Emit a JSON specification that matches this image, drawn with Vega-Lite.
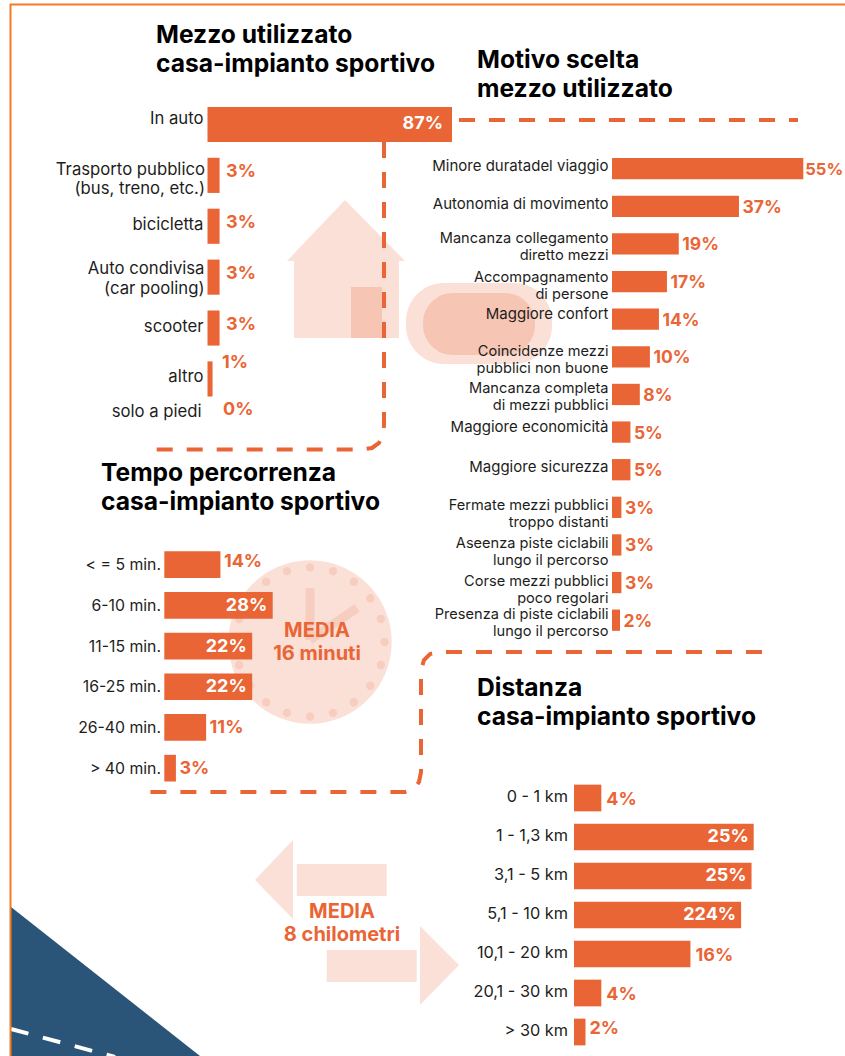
{
"$schema":"https://vega.github.io/schema/vega-lite/v6.json",
"width":845,"height":1056,"padding":0,"autosize":{"type":"none"},"background":"white",
"config":{"view":{"stroke":null},"text":{"font":"Inter","fill":"#1d1d1b"}},
"datasets":{
"p1":[
{"n":0,"cat":"In auto","v":87,"t":"87%"},
{"n":1,"cat":"Trasporto pubblico\n(bus, treno, etc.)","v":4.3,"t":"3%"},
{"n":2,"cat":"bicicletta","v":4.3,"t":"3%"},
{"n":3,"cat":"Auto condivisa\n(car pooling)","v":4.3,"t":"3%"},
{"n":4,"cat":"scooter","v":4.3,"t":"3%"},
{"n":5,"cat":"altro","v":1.8,"t":"1%"},
{"n":6,"cat":"solo a piedi","v":0,"t":"0%"}],
"p2":[
{"n":0,"cat":"Minore duratadel viaggio","v":55,"t":"55%"},
{"n":1,"cat":"Autonomia di movimento","v":36.5,"t":"37%"},
{"n":2,"cat":"Mancanza collegamento\ndiretto mezzi","v":19.2,"t":"19%"},
{"n":3,"cat":"Accompagnamento\ndi persone","v":15.8,"t":"17%"},
{"n":4,"cat":"Maggiore confort","v":13.5,"t":"14%"},
{"n":5,"cat":"Coincidenze mezzi\npubblici non buone","v":10.9,"t":"10%"},
{"n":6,"cat":"Mancanza completa\ndi mezzi pubblici","v":8,"t":"8%"},
{"n":7,"cat":"Maggiore economicità","v":5.3,"t":"5%"},
{"n":8,"cat":"Maggiore sicurezza","v":5.3,"t":"5%"},
{"n":9,"cat":"Fermate mezzi pubblici\ntroppo distanti","v":2.7,"t":"3%"},
{"n":10,"cat":"Aseenza piste ciclabili\nlungo il percorso","v":2.7,"t":"3%"},
{"n":11,"cat":"Corse mezzi pubblici\npoco regolari","v":2.7,"t":"3%"},
{"n":12,"cat":"Presenza di piste ciclabili\nlungo il percorso","v":2.3,"t":"2%"}],
"p3":[
{"n":0,"cat":"< = 5 min.","v":14.5,"t":"14%"},
{"n":1,"cat":"6-10 min.","v":28,"t":"28%"},
{"n":2,"cat":"11-15 min.","v":22.7,"t":"22%"},
{"n":3,"cat":"16-25 min.","v":22.7,"t":"22%"},
{"n":4,"cat":"26-40 min.","v":10.8,"t":"11%"},
{"n":5,"cat":"> 40 min.","v":3,"t":"3%"}],
"p4":[
{"n":0,"cat":"0 - 1 km","v":3.8,"t":"4%"},
{"n":1,"cat":"1 - 1,3 km","v":25,"t":"25%"},
{"n":2,"cat":"3,1 - 5 km","v":24.7,"t":"25%"},
{"n":3,"cat":"5,1 - 10 km","v":23.25,"t":"224%"},
{"n":4,"cat":"10,1 - 20 km","v":16.2,"t":"16%"},
{"n":5,"cat":"20,1 - 30 km","v":3.8,"t":"4%"},
{"n":6,"cat":"> 30 km","v":1.6,"t":"2%"}],
"blocks":[
{"k":"corpo casa","x0":294,"x1":399,"y0":261,"y1":338,"tone":"pale"},
{"k":"porta","x0":351,"x1":382,"y0":287,"y1":338,"tone":"deep"},
{"k":"freccia sx","x0":296.7,"x1":386.7,"y0":864,"y1":896,"tone":"pale"},
{"k":"freccia dx","x0":326.7,"x1":416.7,"y0":950,"y1":982,"tone":"pale"}],
"tri":[
{"k":"tetto","x":287,"y0":261,"y1":261},{"k":"tetto","x":345,"y0":200,"y1":261},{"k":"tetto","x":405,"y0":261,"y1":261},
{"k":"punta sx","x":255,"y0":880,"y1":880},{"k":"punta sx","x":293,"y0":840,"y1":919},
{"k":"punta dx","x":420,"y0":926,"y1":1005},{"k":"punta dx","x":459,"y0":965,"y1":965}],
"blue":[{"k":"angolo","x":11,"y0":907,"y1":1056},{"k":"angolo","x":200,"y0":1056,"y1":1056}],
"dots":[
{"x":310,"y":567.5},{"x":333,"y":571.1},{"x":353.8,"y":581.7},{"x":370.3,"y":598.2},{"x":380.9,"y":619},{"x":384.5,"y":642},{"x":380.9,"y":665},{"x":370.3,"y":685.8},{"x":353.8,"y":702.3},{"x":333,"y":712.9},{"x":310,"y":716.5},{"x":287,"y":712.9},{"x":266.2,"y":702.3},{"x":249.7,"y":685.8},{"x":239.1,"y":665},{"x":235.5,"y":642},{"x":239.1,"y":619},{"x":249.7,"y":598.2},{"x":266.2,"y":581.7},{"x":287,"y":571.1}],
"hands":[
{"p":"a","o":0,"x":310,"y":588},{"p":"a","o":1,"x":310,"y":640},
{"p":"b","o":0,"x":310,"y":640},{"p":"b","o":1,"x":357,"y":608}],
"frame":[{"p":"f","o":0,"x":10.5,"y":1056},{"p":"f","o":1,"x":10.5,"y":4.5},{"p":"f","o":2,"x":845,"y":4.5}],
"road":[{"p":"r","o":0,"x":11,"y":1029},{"p":"r","o":1,"x":115,"y":1057}],
"dash":[
{"p":"A","o":0,"x":384,"y":142},{"p":"A","o":1,"x":384,"y":425},{"p":"A","o":2,"x":383,"y":435},{"p":"A","o":3,"x":379,"y":443},{"p":"A","o":4,"x":372,"y":448},{"p":"A","o":5,"x":362,"y":449.5},{"p":"A","o":6,"x":152,"y":449.5},
{"p":"B","o":0,"x":459,"y":120},{"p":"B","o":1,"x":798,"y":120},
{"p":"C","o":0,"x":762,"y":652},{"p":"C","o":1,"x":440,"y":652},{"p":"C","o":2,"x":430,"y":654},{"p":"C","o":3,"x":424,"y":660},{"p":"C","o":4,"x":421,"y":670},{"p":"C","o":5,"x":421,"y":772},{"p":"C","o":6,"x":419,"y":782},{"p":"C","o":7,"x":414,"y":789},{"p":"C","o":8,"x":405,"y":792},{"p":"C","o":9,"x":139,"y":792}],
"titles":[
{"x":156,"y":43,"s":"Mezzo utilizzato\ncasa-impianto sportivo"},
{"x":477,"y":67.7,"s":"Motivo scelta\nmezzo utilizzato"},
{"x":101,"y":481,"s":"Tempo percorrenza\ncasa-impianto sportivo"},
{"x":477,"y":696,"s":"Distanza\ncasa-impianto sportivo"}],
"media":[
{"x":317,"y":637,"s":"MEDIA\n16 minuti"},
{"x":342,"y":918,"s":"MEDIA\n8 chilometri"}]
},
"resolve":{"scale":{"x":"independent","y":"independent"}},
"layer":[
{"encoding":{
"x":{"field":"x","type":"quantitative","axis":null,"scale":{"domain":[0,845],"range":[0,845],"nice":false,"zero":false}},
"y":{"field":"y","type":"quantitative","axis":null,"scale":{"domain":[0,1056],"range":[0,1056],"nice":false,"zero":false}}},
"layer":[
{"data":{"name":"blue"},"mark":{"type":"area","color":"#2b5578","stroke":null},"encoding":{"y":{"field":"y0","type":"quantitative"},"y2":{"field":"y1"},"detail":{"field":"k"}}},
{"data":{"name":"road"},"mark":{"type":"line","color":"white","strokeWidth":4,"strokeDash":[18,15]},"encoding":{"order":{"field":"o"}}},
{"data":{"name":"frame"},"mark":{"type":"line","color":"#f47b20","strokeWidth":2},"encoding":{"order":{"field":"o"}}},
{"data":{"name":"tri"},"mark":{"type":"area","color":"#fbe0d7"},"encoding":{"y":{"field":"y0","type":"quantitative"},"y2":{"field":"y1"},"detail":{"field":"k"}}},
{"data":{"name":"blocks"},"mark":{"type":"rect"},"encoding":{"x":{"field":"x0","type":"quantitative"},"x2":{"field":"x1"},"y":{"field":"y0","type":"quantitative"},"y2":{"field":"y1"},"color":{"field":"tone","type":"nominal","legend":null,"scale":{"domain":["pale","deep"],"range":["#fbe0d7","#f6c5b4"]}}}},
{"data":{"values":[{"x0":406,"x1":552,"y0":283,"y1":364}]},"mark":{"type":"rect","color":"#fbe0d7","cornerRadius":38},"encoding":{"x":{"field":"x0","type":"quantitative"},"x2":{"field":"x1"},"y":{"field":"y0","type":"quantitative"},"y2":{"field":"y1"}}},
{"data":{"values":[{"x0":423,"x1":535,"y0":293,"y1":355}]},"mark":{"type":"rect","color":"#f6c5b4","cornerRadius":30},"encoding":{"x":{"field":"x0","type":"quantitative"},"x2":{"field":"x1"},"y":{"field":"y0","type":"quantitative"},"y2":{"field":"y1"}}},
{"data":{"values":[{"x":310,"y":642}]},"mark":{"type":"point","filled":true,"opacity":1,"color":"#fbe0d7","size":26700}},
{"data":{"name":"dots"},"mark":{"type":"point","filled":true,"opacity":1,"color":"#f6cdbf","size":70}},
{"data":{"name":"hands"},"mark":{"type":"line","color":"#f6cdbf","strokeWidth":9},"encoding":{"detail":{"field":"p"},"order":{"field":"o"}}},
{"data":{"name":"dash"},"mark":{"type":"line","color":"#ea6535","strokeWidth":4,"strokeDash":[16,14]},"encoding":{"detail":{"field":"p"},"order":{"field":"o"}}},
{"data":{"name":"titles"},"mark":{"type":"text","align":"left","baseline":"alphabetic","fontSize":24.6,"fontWeight":700,"lineBreak":"\n","lineHeight":29,"fill":"#000000"},"encoding":{"text":{"field":"s"}}},
{"data":{"name":"media"},"mark":{"type":"text","align":"center","baseline":"alphabetic","fontSize":20,"fontWeight":700,"lineBreak":"\n","lineHeight":23,"fill":"#ea6535"},"encoding":{"text":{"field":"s"}}}
]},
{"data":{"name":"p1"},"encoding":{
"x":{"field":"v","type":"quantitative","axis":null,"scale":{"domain":[0,87],"range":[207.5,452],"nice":false}},
"y":{"field":"cat","type":"nominal","sort":null,"axis":null,"scale":{"type":"band","range":[99,455.3],"paddingInner":0.31,"paddingOuter":0.155}},
"text":{"field":"cat"}},
"layer":[
{"mark":{"type":"bar","color":"#ea6535"},"encoding":{"text":{"value":""}}},
{"transform":[{"filter":{"field":"n","oneOf":[0]}}],"mark":{"type":"text","align":"right","dx":-4,"dy":-5.5,"fontSize":16.7},"encoding":{"x":{"datum":0,"type":"quantitative"}}},
{"transform":[{"filter":{"field":"n","oneOf":[1]}}],"mark":{"type":"text","align":"right","dx":-2.5,"dy":-5,"fontSize":16.7,"lineBreak":"\n","lineHeight":19},"encoding":{"x":{"datum":0,"type":"quantitative"}}},
{"transform":[{"filter":{"field":"n","oneOf":[3]}}],"mark":{"type":"text","align":"right","dx":-3,"dy":-8.5,"fontSize":16.7,"lineBreak":"\n","lineHeight":20},"encoding":{"x":{"datum":0,"type":"quantitative"}}},
{"transform":[{"filter":{"field":"n","oneOf":[2,4,5]}}],"mark":{"type":"text","align":"right","dx":-4,"dy":-1.5,"fontSize":16.7},"encoding":{"x":{"datum":0,"type":"quantitative"}}},
{"transform":[{"filter":{"field":"n","oneOf":[6]}}],"mark":{"type":"text","align":"right","dx":-6,"dy":-18,"fontSize":16.7},"encoding":{"x":{"datum":0,"type":"quantitative"}}},
{"transform":[{"filter":{"field":"n","oneOf":[0]}}],"mark":{"type":"text","align":"right","dx":-9,"dy":0,"fontSize":18,"fontWeight":700,"fill":"white"},"encoding":{"text":{"field":"t"}}},
{"transform":[{"filter":{"field":"n","oneOf":[1,2,3,4]}}],"mark":{"type":"text","align":"left","dx":6.5,"dy":-3,"fontSize":18,"fontWeight":700,"fill":"#ea6535"},"encoding":{"text":{"field":"t"}}},
{"transform":[{"filter":{"field":"n","oneOf":[5]}}],"mark":{"type":"text","align":"left","dx":9.5,"dy":-16,"fontSize":18,"fontWeight":700,"fill":"#ea6535"},"encoding":{"text":{"field":"t"}}},
{"transform":[{"filter":{"field":"n","oneOf":[6]}}],"mark":{"type":"text","align":"left","dx":15.5,"dy":-20,"fontSize":18,"fontWeight":700,"fill":"#ea6535"},"encoding":{"text":{"field":"t"}}}
]},
{"data":{"name":"p2"},"encoding":{
"x":{"field":"v","type":"quantitative","axis":null,"scale":{"domain":[0,55],"range":[612,803.3],"nice":false}},
"y":{"field":"cat","type":"nominal","sort":null,"axis":null,"scale":{"type":"band","range":[149.9,639],"paddingInner":0.434,"paddingOuter":0.217}},
"text":{"field":"cat"}},
"layer":[
{"mark":{"type":"bar","color":"#ea6535"},"encoding":{"text":{"value":""}}},
{"transform":[{"filter":{"field":"n","oneOf":[0,1,8]}}],"mark":{"type":"text","align":"right","dx":-3.5,"dy":-2.5,"fontSize":15},"encoding":{"x":{"datum":0,"type":"quantitative"}}},
{"transform":[{"filter":{"field":"n","oneOf":[4,7]}}],"mark":{"type":"text","align":"right","dx":-3.5,"dy":-5,"fontSize":15},"encoding":{"x":{"datum":0,"type":"quantitative"}}},
{"transform":[{"filter":{"field":"n","oneOf":[2,5,6,12]}}],"mark":{"type":"text","align":"right","dx":-3.5,"dy":-5,"fontSize":14.6,"lineBreak":"\n","lineHeight":17},"encoding":{"x":{"datum":0,"type":"quantitative"}}},
{"transform":[{"filter":{"field":"n","oneOf":[3]}}],"mark":{"type":"text","align":"right","dx":-3.5,"dy":-3.5,"fontSize":14.6,"lineBreak":"\n","lineHeight":17},"encoding":{"x":{"datum":0,"type":"quantitative"}}},
{"transform":[{"filter":{"field":"n","oneOf":[9,10,11]}}],"mark":{"type":"text","align":"right","dx":-3.5,"dy":-1,"fontSize":14.6,"lineBreak":"\n","lineHeight":17},"encoding":{"x":{"datum":0,"type":"quantitative"}}},
{"transform":[{"filter":{"field":"n","oneOf":[0]}}],"mark":{"type":"text","align":"left","dx":2,"dy":1.5,"fontSize":16.5,"fontWeight":700,"fill":"#ea6535"},"encoding":{"text":{"field":"t"}}},
{"transform":[{"filter":{"field":"n","oneOf":[1,2,3,4,5,6,7,8,9,10,11,12]}}],"mark":{"type":"text","align":"left","dx":3.5,"dy":1.5,"fontSize":17.5,"fontWeight":700,"fill":"#ea6535"},"encoding":{"text":{"field":"t"}}}
]},
{"data":{"name":"p3"},"encoding":{
"x":{"field":"v","type":"quantitative","axis":null,"scale":{"domain":[0,28],"range":[164.3,272.7],"nice":false}},
"y":{"field":"cat","type":"nominal","sort":null,"axis":null,"scale":{"type":"band","range":[544.3,788.5],"paddingInner":0.344,"paddingOuter":0.172}},
"text":{"field":"cat"}},
"layer":[
{"mark":{"type":"bar","color":"#ea6535"},"encoding":{"text":{"value":""}}},
{"mark":{"type":"text","align":"right","dx":-3.3,"dy":0.5,"fontSize":15.8},"encoding":{"x":{"datum":0,"type":"quantitative"}}},
{"transform":[{"filter":{"field":"n","oneOf":[1,2,3]}}],"mark":{"type":"text","align":"right","dx":-5.5,"dy":0.5,"fontSize":18,"fontWeight":700,"fill":"white"},"encoding":{"text":{"field":"t"}}},
{"transform":[{"filter":{"field":"n","oneOf":[0]}}],"mark":{"type":"text","align":"left","dx":3.5,"dy":-3,"fontSize":18,"fontWeight":700,"fill":"#ea6535"},"encoding":{"text":{"field":"t"}}},
{"transform":[{"filter":{"field":"n","oneOf":[4,5]}}],"mark":{"type":"text","align":"left","dx":3.5,"dy":1,"fontSize":18,"fontWeight":700,"fill":"#ea6535"},"encoding":{"text":{"field":"t"}}}
]},
{"data":{"name":"p4"},"encoding":{
"x":{"field":"v","type":"quantitative","axis":null,"scale":{"domain":[0,25],"range":[574,753.7],"nice":false}},
"y":{"field":"cat","type":"nominal","sort":null,"axis":null,"scale":{"type":"band","range":[778.5,1051.5],"paddingInner":0.315,"paddingOuter":0.1575}},
"text":{"field":"cat"}},
"layer":[
{"mark":{"type":"bar","color":"#ea6535"},"encoding":{"text":{"value":""}}},
{"mark":{"type":"text","align":"right","dx":-6,"dy":-1.5,"fontSize":16.3},"encoding":{"x":{"datum":0,"type":"quantitative"}}},
{"transform":[{"filter":{"field":"n","oneOf":[1,2,3]}}],"mark":{"type":"text","align":"right","dx":-5,"dy":0,"fontSize":18,"fontWeight":700,"fill":"white"},"encoding":{"text":{"field":"t"}}},
{"transform":[{"filter":{"field":"n","oneOf":[0,4,5]}}],"mark":{"type":"text","align":"left","dx":5,"dy":1.5,"fontSize":18,"fontWeight":700,"fill":"#ea6535"},"encoding":{"text":{"field":"t"}}},
{"transform":[{"filter":{"field":"n","oneOf":[6]}}],"mark":{"type":"text","align":"left","dx":4,"dy":-3,"fontSize":18,"fontWeight":700,"fill":"#ea6535"},"encoding":{"text":{"field":"t"}}}
]}
]}
